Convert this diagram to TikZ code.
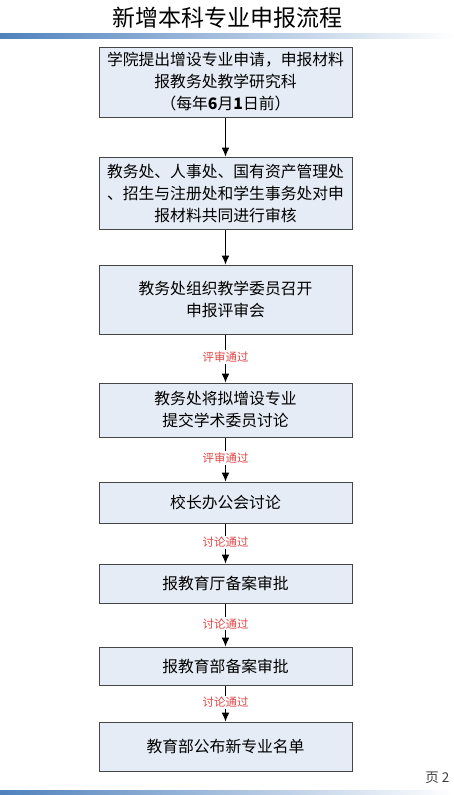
\documentclass[tikz,border=0pt]{standalone}
\usepackage{fontspec}
\setmainfont{Noto Sans CJK SC}
\usetikzlibrary{arrows.meta}
\definecolor{boxfill}{RGB}{230,236,245}
\definecolor{boxline}{RGB}{70,70,70}
\definecolor{barblue}{RGB}{79,129,189}
\definecolor{passred}{RGB}{225,70,70}

\begin{document}
\begin{tikzpicture}[x=1pt, y=-1pt, >={Latex[length=3.1mm, width=2.7mm]},
	stepbox/.style={draw=boxline, line width=1pt, fill=boxfill, minimum width=253pt, align=center, font=\fontsize{15.8}{22}\selectfont, inner sep=0pt},
	pass/.style={fill=white, text=passred, font=\fontsize{11.5}{13}\selectfont, inner sep=1.5pt},
	flow/.style={->, line width=0.9pt}]
	\useasboundingbox (0,0) rectangle (454,795);
	% title and bars
	\node (title) at (227,18) {\fontsize{23}{26}\selectfont 新增本科专业申报流程};
	\shade[left color=barblue, right color=white] (0,33) rectangle (454,38);
	\shade[left color=barblue, right color=white] (0,790) rectangle (454,795);
	\node[anchor=east, font=\fontsize{13.5}{15}\selectfont, text=black!75] (page) at (453,778) {页 2};
	% boxes
	\node[stepbox, minimum height=70pt] (apply) at (225.5,82) {学院提出增设专业申请，申报材料\\报教务处教学研究科\\（每年\textbf{6}月\textbf{1}日前）};
	\node[stepbox, minimum height=72pt] (review) at (225.5,193) {教务处、人事处、国有资产管理处\\、招生与注册处和学生事务处对申\\报材料共同进行审核};
	\node[stepbox, minimum height=69pt] (meeting) at (225.5,299.5) {教务处组织教学委员召开\\申报评审会};
	\node[stepbox, minimum height=54pt] (academic) at (225.5,410) {教务处将拟增设专业\\提交学术委员讨论};
	\node[stepbox, minimum height=41pt] (president) at (225.5,502.5) {校长办公会讨论};
	\node[stepbox, minimum height=39pt] (province) at (225.5,583.5) {报教育厅备案审批};
	\node[stepbox, minimum height=38pt] (ministry) at (225.5,666) {报教育部备案审批};
	\node[stepbox, minimum height=49pt] (publish) at (225.5,746.5) {教育部公布新专业名单};
	% arrows
	\draw[flow] (apply) -- (review);
	\draw[flow] (review) -- (meeting);
	\draw[flow] (meeting) -- node[pass, pos=0.47] (p1) {评审通过} (academic);
	\draw[flow] (academic) -- node[pass, pos=0.47] (p2) {评审通过} (president);
	\draw[flow] (president) -- node[pass, pos=0.47] (p3) {讨论通过} (province);
	\draw[flow] (province) -- node[pass, pos=0.47] (p4) {讨论通过} (ministry);
	\draw[flow] (ministry) -- node[pass, pos=0.47] (p5) {讨论通过} (publish);
\end{tikzpicture}
\end{document}
